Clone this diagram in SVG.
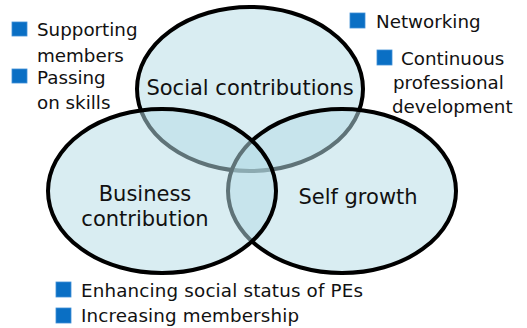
<svg xmlns="http://www.w3.org/2000/svg" width="527" height="328" viewBox="0 0 527 328">
<style>
.circ{fill:#b7dde7;fill-opacity:0.52;stroke:#000;stroke-width:4}
.lbl{font-family:"DejaVu Sans",Verdana,sans-serif;font-size:21px;fill:#111;text-anchor:middle}
.itm{font-family:"DejaVu Sans",Verdana,sans-serif;font-size:18.3px;fill:#111}
.blt{fill:#0a6fc4;stroke:#3f8fd6;stroke-width:0.8}
</style>
<rect width="527" height="328" fill="#fff"/>
<g id="social">
<ellipse class="circ" cx="250" cy="89" rx="113" ry="82"/>
<text class="lbl" x="250" y="95">Social contributions</text>
</g>
<g id="self">
<ellipse class="circ" cx="342" cy="191" rx="114" ry="82"/>
<text class="lbl" x="358" y="204">Self growth</text>
</g>
<g id="business">
<ellipse class="circ" cx="162" cy="191" rx="114" ry="82"/>
<text class="lbl" x="145" y="201">Business</text>
<text class="lbl" x="145" y="226">contribution</text>
</g>
<g id="connectors"/>
<g id="list-left">
<rect class="blt" x="12" y="22" width="15" height="14"/>
<text class="itm" x="37" y="36">Supporting</text>
<text class="itm" x="37" y="62">members</text>
<rect class="blt" x="12" y="69" width="15" height="14"/>
<text class="itm" x="37" y="84">Passing</text>
<text class="itm" x="37" y="109">on skills</text>
</g>
<g id="list-right">
<rect class="blt" x="350" y="13" width="15" height="15"/>
<text class="itm" x="376" y="28">Networking</text>
<rect class="blt" x="377" y="50" width="15" height="15"/>
<text class="itm" x="401" y="65">Continuous</text>
<text class="itm" x="393" y="89">professional</text>
<text class="itm" x="392" y="113">development</text>
</g>
<g id="list-bottom">
<rect class="blt" x="56" y="282" width="15" height="15"/>
<text class="itm" x="81" y="297" textLength="282" lengthAdjust="spacing">Enhancing social status of PEs</text>
<rect class="blt" x="56" y="308" width="15" height="15"/>
<text class="itm" x="81" y="322" textLength="218" lengthAdjust="spacing">Increasing membership</text>
</g>
</svg>
